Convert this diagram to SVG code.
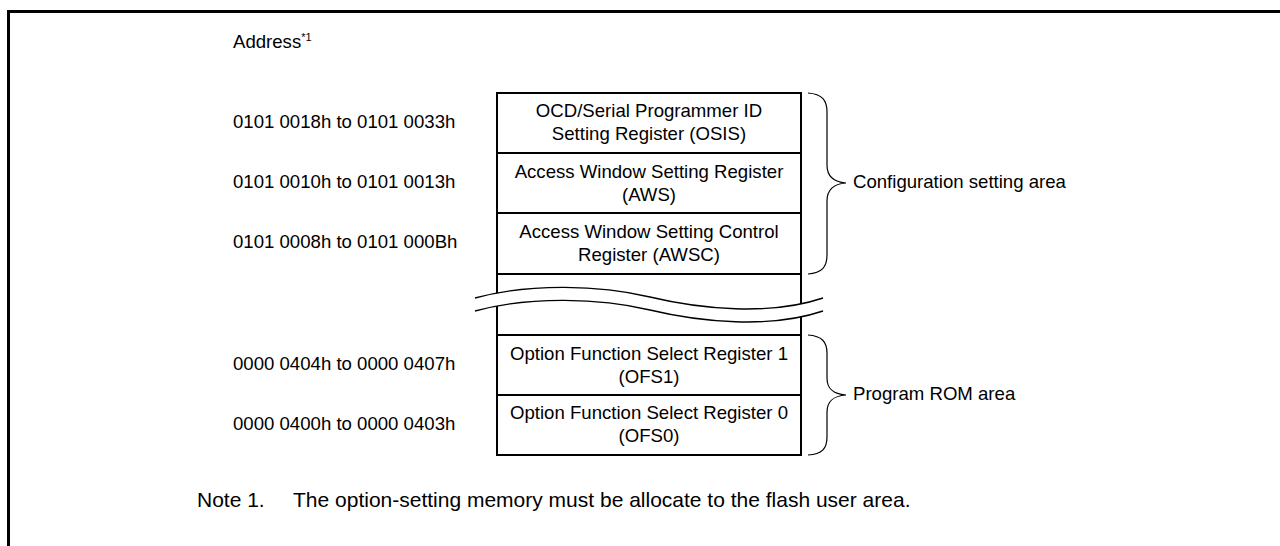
<svg xmlns="http://www.w3.org/2000/svg" width="1280" height="546" viewBox="0 0 1280 546">
<style>
text{font-family:"Liberation Sans",Arial,sans-serif;font-size:18.6px;fill:#000}
.c{text-anchor:middle}
.box{fill:#fff;stroke:#000;stroke-width:2}
.row{stroke:#000;stroke-width:2}
.brace{fill:none;stroke:#000;stroke-width:1.2}
.wave{fill:none;stroke:#000;stroke-width:1.4}
.note{font-size:21px}
</style>
<rect width="1280" height="546" fill="#fff"/>
<g id="frame">
<path d="M1280,11.5 H8.5 V546" fill="none" stroke="#000" stroke-width="3"/>
</g>
<g id="address-header">
<text x="233" y="48">Address<tspan font-size="11" dy="-7">*1</tspan></text>
</g>
<g id="memory-map">
<rect class="box" x="497" y="93" width="304" height="362"/>
<line class="row" x1="497" y1="153" x2="801" y2="153"/>
<line class="row" x1="497" y1="213" x2="801" y2="213"/>
<line class="row" x1="497" y1="274" x2="801" y2="274"/>
<line class="row" x1="497" y1="335" x2="801" y2="335"/>
<line class="row" x1="497" y1="395" x2="801" y2="395"/>
</g>
<g id="break">
<path d="M475,298 C530,283 600,285 650,297 C700,309 770,316 823,298 L823,311 C770,329 700,322 650,310 C600,298 530,296 475,311 Z" fill="#fff"/>
<path class="wave" d="M475,298 C530,283 600,285 650,297 C700,309 770,316 823,298"/>
<path class="wave" d="M475,311 C530,296 600,298 650,310 C700,322 770,329 823,311"/>
</g>
<g id="osis">
<text x="233" y="128">0101 0018h to 0101 0033h</text>
<text class="c" x="649" y="117">OCD/Serial Programmer ID</text>
<text class="c" x="649" y="140">Setting Register (OSIS)</text>
</g>
<g id="aws">
<text x="233" y="188">0101 0010h to 0101 0013h</text>
<text class="c" x="649" y="178">Access Window Setting Register</text>
<text class="c" x="649" y="201">(AWS)</text>
</g>
<g id="awsc">
<text x="233" y="248">0101 0008h to 0101 000Bh</text>
<text class="c" x="649" y="238">Access Window Setting Control</text>
<text class="c" x="649" y="261">Register (AWSC)</text>
</g>
<g id="ofs1">
<text x="233" y="370">0000 0404h to 0000 0407h</text>
<text class="c" x="649" y="360">Option Function Select Register 1</text>
<text class="c" x="649" y="383">(OFS1)</text>
</g>
<g id="ofs0">
<text x="233" y="430">0000 0400h to 0000 0403h</text>
<text class="c" x="649" y="419">Option Function Select Register 0</text>
<text class="c" x="649" y="442">(OFS0)</text>
</g>
<g id="connectors">
<path class="brace" d="M808,93 C822,94 827,100 827,112 L827,165 C827,176 833,182 846,183 C833,184 827,190 827,201 L827,255 C827,267 822,273 808,274"/>
<path class="brace" d="M808,335 C822,336 827,342 827,353 L827,378 C827,389 833,394 846,395 C833,396 827,401 827,412 L827,437 C827,449 822,454 808,455"/>
</g>
<g id="config-area">
<text x="853" y="188">Configuration setting area</text>
</g>
<g id="rom-area">
<text x="853" y="400">Program ROM area</text>
</g>
<g id="note">
<text class="note" x="197" y="507">Note 1.</text>
<text class="note" x="293" y="507">The option-setting memory must be allocate to the flash user area.</text>
</g>
</svg>
